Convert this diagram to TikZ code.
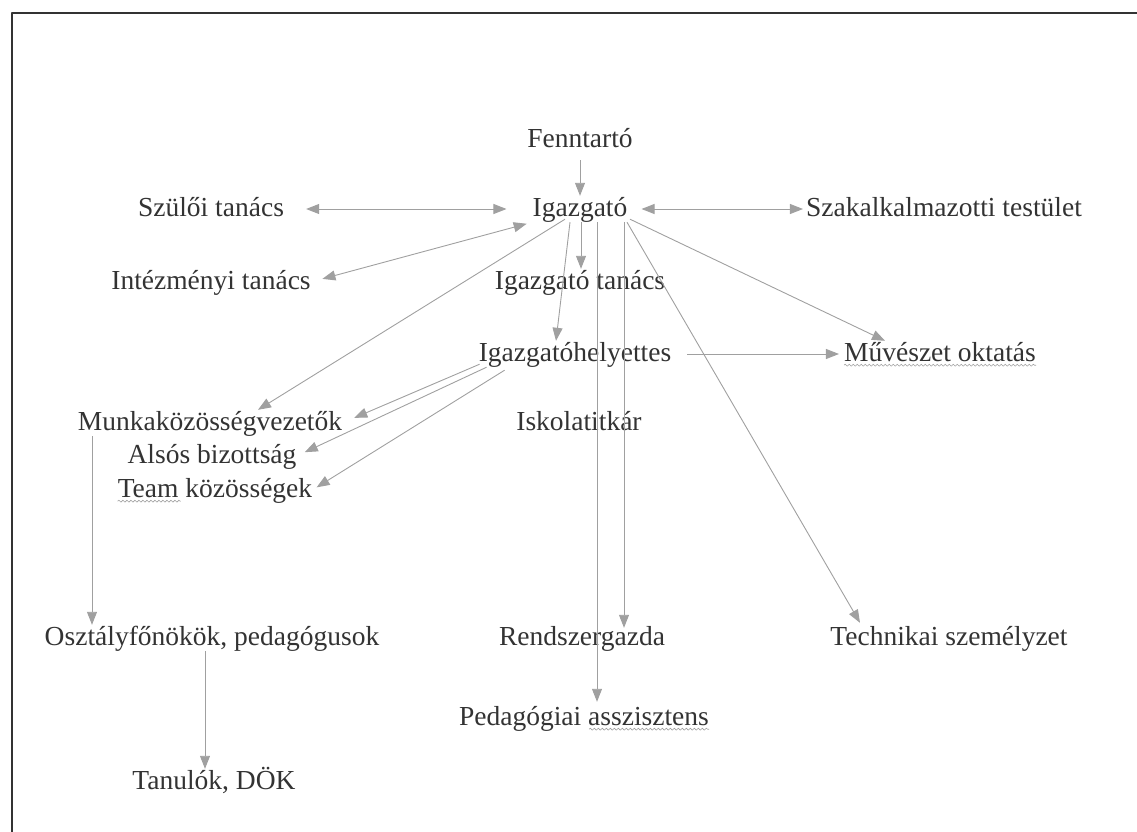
\documentclass[tikz,border=0pt]{standalone}
\usepackage{fontspec}
\setmainfont{Liberation Serif}
\usetikzlibrary{arrows.meta,decorations.pathmorphing}
\definecolor{txt}{HTML}{333333}
\definecolor{arr}{HTML}{A0A0A0}
\begin{document}
\begin{tikzpicture}[x=1pt,y=-1pt,>={Triangle[length=13pt,width=10pt]},line join=round,
  font=\fontsize{27.5}{33}\selectfont,
  box/.style={anchor=base,inner sep=0pt,text height=20pt,text depth=6pt,text=txt},
  link/.style={arr,line width=.9pt},
  wavy/.style={arr,line width=.6pt,decorate,decoration={snake,amplitude=1pt,segment length=4pt}}]
    \useasboundingbox (0,0) rectangle (1137,832);
    \draw[line width=2pt,txt] (12,832)--(12,13)--(1137,13);
    % nodes
    \node[box] (fenn) at (580,147) {Fenntartó};
    \node[box] (igaz) at (580,216) {Igazgató};
    \node[box] (szul) at (211,216) {Szülői tanács};
    \node[box] (szak) at (944,216) {Szakalkalmazotti testület};
    \node[box] (intez) at (211,289) {Intézményi tanács};
    \node[box] (igtan) at (580,289) {Igazgató tanács};
    \node[box] (ighely) at (575,361) {Igazgatóhelyettes};
    \node[box] (muv) at (940,361) {Művészet oktatás};
    \node[box] (munka) at (210,430) {Munkaközösségvezetők};
    \node[box] (iskola) at (579,430) {Iskolatitkár};
    \node[box] (also) at (212,463) {Alsós bizottság};
    \node[box] (team) at (215,497) {Team közösségek};
    \node[box] (osztf) at (212,645) {Osztályfőnökök, pedagógusok};
    \node[box] (rendsz) at (582,645) {Rendszergazda};
    \node[box] (tech) at (949,645) {Technikai személyzet};
    \node[box] (pedas) at (584,725) {Pedagógiai asszisztens};
    \node[box] (tanulo) at (214,789) {Tanulók, DÖK};
    % wavy underlines
    \draw[wavy] ([yshift=2pt]muv.south west)--([yshift=2pt]muv.south east);
    \draw[wavy] ([yshift=2pt]team.south west)--([xshift=63pt,yshift=2pt]team.south west);
    \draw[wavy] ([xshift=-120pt,yshift=2pt]pedas.south east)--([yshift=2pt]pedas.south east);
    % arrows
    \draw[link,->,shorten <=7pt] (fenn.south)--(igaz.north);
    \draw[link,<->,shorten <=22pt,shorten >=26pt] (szul.east)--(igaz.west);
    \draw[link,<->,shorten <=14pt,shorten >=3pt] (igaz.east)--(szak.west);
    \draw[link,<->,shorten <=12pt,shorten >=6pt] (intez.east)--(igaz.south west);
    \draw[link,->] ([xshift=1pt]igaz.south)--([xshift=1pt]igtan.north);
    \draw[link,->] ([xshift=-10pt]igaz.south)--([xshift=-19pt]ighely.north);
    \draw[link,->] ([xshift=-15pt,yshift=3pt]igaz.south)--([xshift=48pt]munka.north);
    \draw[link,->] ([xshift=17pt]igaz.south)--([xshift=13pt,yshift=3pt]pedas.north);
    \draw[link,->] ([xshift=44pt]igaz.south)--([xshift=42pt,yshift=-3pt]rendsz.north);
    \draw[link,->] ([xshift=50pt,yshift=3pt]igaz.south)--([xshift=-55pt]muv.north);
    \draw[link,->] ([xshift=47pt]igaz.south)--([xshift=-89pt,yshift=2pt]tech.north);
    \draw[link,->,shorten <=16pt,shorten >=5pt] (ighely.east)--(muv.west);
    \draw[link,->,shorten >=13pt] ([xshift=1pt,yshift=3pt]ighely.south west)--(munka.east);
    \draw[link,->,shorten >=9pt] ([xshift=8pt]ighely.south west)--(also.east);
    \draw[link,->,shorten >=5pt] ([xshift=26pt,yshift=-3pt]ighely.south west)--(team.east);
    \draw[link,->] ([xshift=-118pt]munka.south)--([xshift=-120pt]osztf.north);
    \draw[link,->] ([xshift=-7pt]osztf.south)--([xshift=-9pt]tanulo.north);
\end{tikzpicture}
\end{document}
